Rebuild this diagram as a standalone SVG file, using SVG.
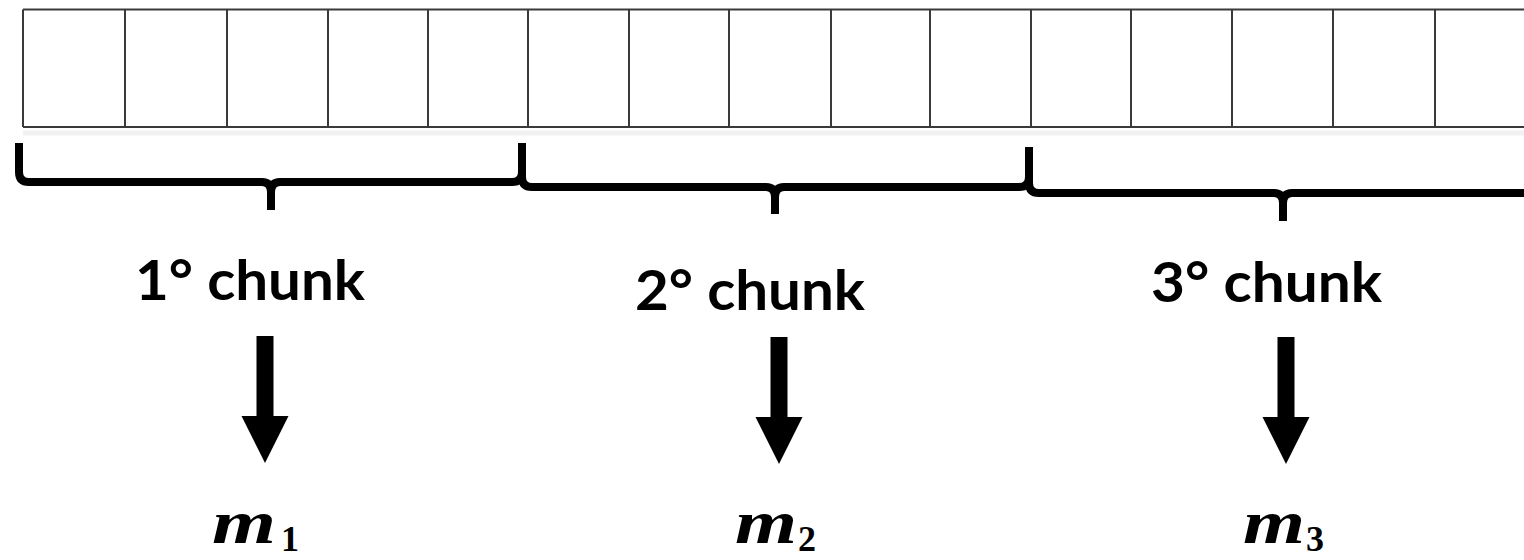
<svg xmlns="http://www.w3.org/2000/svg" width="1524" height="560" viewBox="0 0 1524 560">
  <style>
    .grid { stroke: #3a3a3a; stroke-width: 2; fill: none; }
    .shadow { stroke: #f1f1f1; stroke-width: 5; fill: none; }
    .brace { stroke: #000; stroke-width: 8; fill: none; stroke-linejoin: round; }
    .lbl { font-family: Lato, "Open Sans", "Liberation Sans", sans-serif; font-weight: bold; font-size: 55px; fill: #000; }
    .m { font-family: "Liberation Serif", "DejaVu Serif", serif; font-style: italic; font-weight: bold; font-size: 62px; fill: #000; }
    .sub { font-family: "Liberation Serif", "DejaVu Serif", serif; font-weight: bold; font-size: 36px; fill: #000; }
    .arrow { fill: #000; }
  </style>
  <defs>
    <path id="arrowShape" d="M-8.5,0 H8.5 V80 H23.5 L0,127 L-23.5,80 H-8.5 Z"/>
  </defs>
  <rect width="1524" height="560" fill="#fff"/>

  <g id="cells">
    <line class="shadow" x1="23" y1="133" x2="1524" y2="133"/>
    <line class="grid" x1="23" y1="9.5" x2="1524" y2="9.5"/>
    <line class="grid" x1="23" y1="127" x2="1524" y2="127"/>
    <line class="grid" x1="23" y1="9.5" x2="23" y2="127"/>
    <line class="grid" x1="125" y1="9.5" x2="125" y2="127"/>
    <line class="grid" x1="227" y1="9.5" x2="227" y2="127"/>
    <line class="grid" x1="328" y1="9.5" x2="328" y2="127"/>
    <line class="grid" x1="428" y1="9.5" x2="428" y2="127"/>
    <line class="grid" x1="528" y1="9.5" x2="528" y2="127"/>
    <line class="grid" x1="629" y1="9.5" x2="629" y2="127"/>
    <line class="grid" x1="729" y1="9.5" x2="729" y2="127"/>
    <line class="grid" x1="831" y1="9.5" x2="831" y2="127"/>
    <line class="grid" x1="930" y1="9.5" x2="930" y2="127"/>
    <line class="grid" x1="1031" y1="9.5" x2="1031" y2="127"/>
    <line class="grid" x1="1131" y1="9.5" x2="1131" y2="127"/>
    <line class="grid" x1="1232" y1="9.5" x2="1232" y2="127"/>
    <line class="grid" x1="1333" y1="9.5" x2="1333" y2="127"/>
    <line class="grid" x1="1435" y1="9.5" x2="1435" y2="127"/>
  </g>

  <g id="braces">
    <path class="brace" d="M19,143 V172 Q19,182 29,182 H262 Q271,182 271,192 V210 M280,182 Q271,182 271,192 M280,182 H512 Q522,182 522,172 V143"/>
    <path class="brace" d="M522,150 V177 Q522,187 532,187 H766 Q775,187 775,197 V214 M784,187 Q775,187 775,197 M784,187 H1019 Q1029,187 1029,177 V147"/>
    <path class="brace" d="M1029,154 V183 Q1029,193 1039,193 H1274 Q1283,193 1283,203 V221 M1292,193 Q1283,193 1283,203 M1292,193 H1530"/>
  </g>

  <g id="chunk1">
    <text class="lbl" x="135" y="300" textLength="230" lengthAdjust="spacingAndGlyphs">1° chunk</text>
    <text class="m" x="212" y="543" textLength="64" lengthAdjust="spacingAndGlyphs">m</text>
    <text class="sub" x="281" y="551">1</text>
  </g>
  <g id="chunk2">
    <text class="lbl" x="635" y="310" textLength="230" lengthAdjust="spacingAndGlyphs">2° chunk</text>
    <text class="m" x="735" y="543" textLength="62" lengthAdjust="spacingAndGlyphs">m</text>
    <text class="sub" x="798" y="551">2</text>
  </g>
  <g id="chunk3">
    <text class="lbl" x="1151" y="302" textLength="231" lengthAdjust="spacingAndGlyphs">3° chunk</text>
    <text class="m" x="1243" y="543" textLength="62" lengthAdjust="spacingAndGlyphs">m</text>
    <text class="sub" x="1306" y="551">3</text>
  </g>

  <g id="connectors">
    <use class="arrow" href="#arrowShape" x="265" y="336"/>
    <use class="arrow" href="#arrowShape" x="779" y="337"/>
    <use class="arrow" href="#arrowShape" x="1286" y="337"/>
  </g>
</svg>
